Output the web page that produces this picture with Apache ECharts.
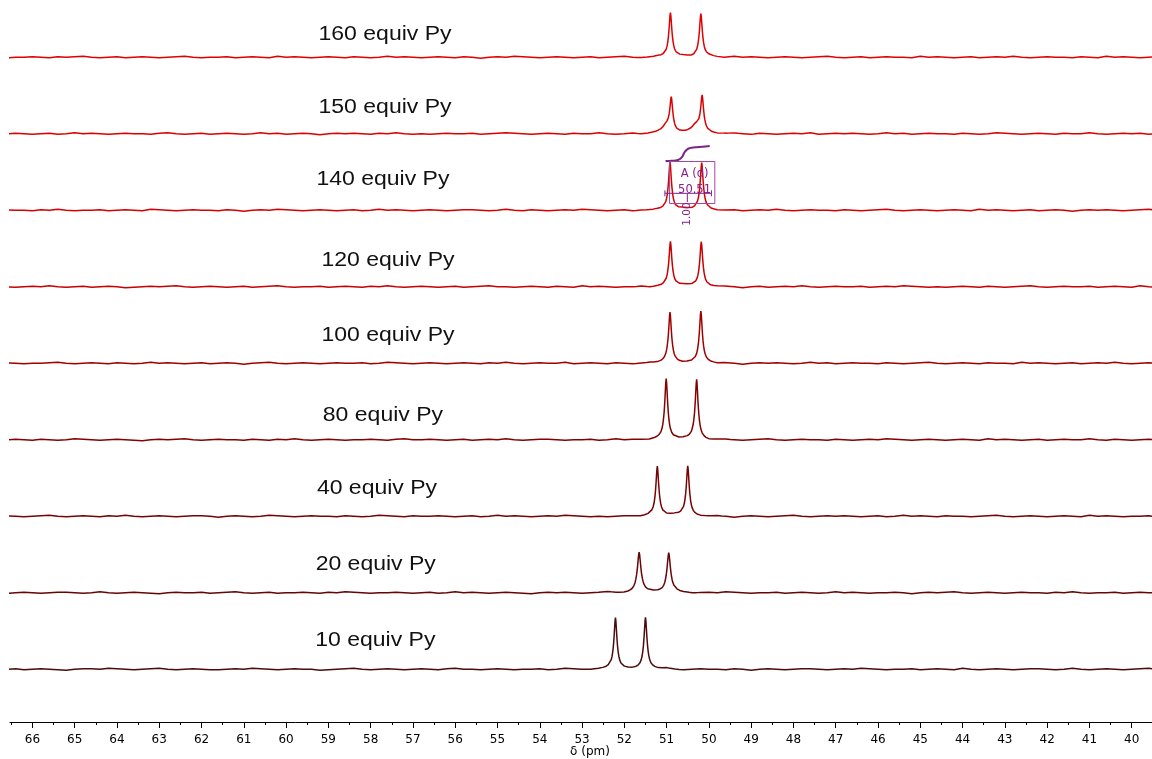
<!DOCTYPE html>
<html>
<head>
<meta charset="utf-8">
<title>Stacked spectra, equiv Py</title>
<script src="https://cdn.jsdelivr.net/npm/echarts@6/dist/echarts.min.js"></script>
<style>
  html, body { margin: 0; padding: 0; background: #fff; }
  #chart { width: 1152px; height: 759px; }
</style>
</head>
<body>
<div id="chart"></div>
<script>
// Spectrum names, bottom trace first
const SPECTRUM_NAMES = ['10 equiv Py', '20 equiv Py', '40 equiv Py', '80 equiv Py', '100 equiv Py',
                        '120 equiv Py', '140 equiv Py', '150 equiv Py', '160 equiv Py'];

// Peaks of every trace: [shift (ppm), height, width factor]
const PEAKS_10  = [[52.21, 51.6, 1], [51.50, 51.6, 1]];
const PEAKS_20  = [[51.65, 40.0, 1.2], [50.95, 40.0, 1.2]];
const PEAKS_40  = [[51.22, 50.0, 1], [50.50, 50.0, 1]];
const PEAKS_80  = [[51.01, 61.0, 1], [50.29, 60.0, 1]];
const PEAKS_100 = [[50.92, 50.4, 1], [50.19, 51.7, 1]];
const PEAKS_120 = [[50.91, 45.0, 1], [50.18, 45.0, 1]];
const PEAKS_140 = [[50.92, 48.3, 1], [50.17, 47.3, 1]];
const PEAKS_150 = [[50.89, 33.8, 1], [51.01, 7.0, 2.5], [50.16, 35.3, 1], [50.31, 7.0, 2.5]];
const PEAKS_160 = [[50.91, 44.6, 1], [50.19, 43.6, 1]];

// Line shape of one peak: distance from the centre (ppm) and relative height
const SHAPE_OFFSET = [0, 0.01, 0.02, 0.03, 0.04, 0.05, 0.065, 0.08, 0.1, 0.13, 0.17, 0.22, 0.3, 0.4, 0.55, 0.8];
const SHAPE_LEVEL  = [1, 0.93, 0.8, 0.66, 0.54, 0.44, 0.33, 0.25, 0.18, 0.12, 0.08, 0.052, 0.033, 0.02, 0.01, 0];

// Baseline noise, one value every 0.2 ppm from 66.6 ppm downwards (units of 0.5)
const NOISE_10 = [0,1,-1,0,1,0,-1,-2,0,1, 1,0,2,1,0,-1,0,1,2,0, -1,0,1,0,-1,-1,0,1,0,2, 1,0,-1,0,1,0,0,-2,-1,0,
  1,2,0,-1,0,1,0,-1,0,1, 0,-1,1,2,0,0,-1,0,1,0, -1,0,0,1,-1,0,2,1,0,-1, 0,1,0,-1,-1,0,1,0,2,0,
  -1,0,1,0,0,-1,1,0,-2,0, 1,0,-1,0,1,1,0,-1,0,1, 0,2,1,0,-1,0,0,1,-1,0, 1,0,-1,2,0,-1,0,1,0,-1,
  0,1,1,0,-1,0,2,0,-1,0, 1,0,-1,0,1,2,0,-1,0,0];
const NOISE_20 = [-1,0,1,0,-1,0,1,1,0,-1, 0,2,0,-1,0,1,0,-1,-2,0, 1,0,0,1,-1,0,1,2,0,-1, 0,1,-1,0,0,1,0,-1,1,0,
  2,1,0,-1,0,0,1,0,-1,0, 1,-1,0,2,0,1,0,-1,0,1, 0,-1,-2,0,1,0,1,0,-1,0, 1,2,0,-1,0,1,0,0,-1,1,
  0,-1,0,1,0,2,1,0,-1,0, 0,1,-1,0,1,0,-1,0,2,0, 1,0,-1,0,0,1,0,-2,0,1, 0,1,2,0,-1,0,1,0,-1,0,
  1,0,0,-1,1,0,2,0,-1,0, 0,1,-1,0,1,0,0,1,-1,0];
const NOISE_40 = [1,0,-1,0,1,2,0,-1,0,1, 0,-1,1,0,2,0,-1,0,1,0, -1,0,1,1,0,-2,0,1,0,-1, 0,2,1,0,-1,0,1,0,0,-1,
  1,0,-1,0,2,1,0,-1,1,0, 0,1,0,-1,0,1,-1,0,2,0, 1,0,-1,0,1,0,2,1,0,-1, 0,-1,0,1,0,-1,1,0,0,2,
  1,0,-1,0,1,0,-2,0,1,0, -1,0,1,2,0,-1,0,1,0,1, 0,-1,0,1,-1,0,2,0,1,0, -1,1,0,0,-1,0,1,2,0,-1,
  0,1,0,-1,0,1,0,-1,2,0, 1,0,-1,0,0,1,-1,0,1,0];
const NOISE_80 = [0,1,0,-1,1,0,-1,0,2,1, 0,-1,0,1,0,-1,-2,0,1,0, 1,2,0,-1,0,1,0,0,-1,1, 0,-1,1,0,2,0,-1,0,1,0,
  -1,0,0,1,0,-1,1,2,0,0, 1,0,-1,0,1,-1,0,1,0,2, 0,-1,0,1,1,0,-1,0,0,1, -1,0,2,0,1,0,-1,1,0,-1,
  0,1,0,-2,0,1,0,-1,0,1, 2,0,-1,0,1,0,0,-1,1,0, -1,0,1,0,2,1,0,-1,0,1, 0,-1,0,1,0,-1,2,0,1,0,
  -1,0,1,-1,0,1,0,0,2,0, -1,1,0,-1,0,1,0,1,-1,0];
const NOISE_100 = [1,0,-1,0,0,1,2,0,-1,0, 1,0,-1,1,0,-1,0,2,0,1, 0,-1,0,1,-1,0,1,0,-2,0, 1,2,0,-1,0,1,0,-1,0,1,
  0,0,1,-1,0,2,1,0,-1,0, 1,0,-1,0,1,0,-1,1,0,2, 0,-1,0,1,0,0,2,-1,0,1, 0,-1,1,0,-1,0,1,0,2,0,
  -1,0,1,0,-1,1,0,-2,0,1, 0,1,0,-1,0,2,0,1,-1,0, 1,0,0,-1,1,0,-1,0,1,2, 0,-1,0,1,0,-1,1,0,0,-1,
  2,0,1,0,-1,0,1,-1,0,1, 0,2,0,-1,0,1,0,-1,1,0];
const NOISE_120 = [0,-1,0,1,0,2,0,-1,0,1, -1,0,1,0,-2,-1,0,1,0,1, 2,0,-1,0,1,0,-1,0,1,-1, 0,1,2,0,-1,0,0,1,-1,0,
  1,0,-1,1,0,2,0,-1,0,1, 0,-1,0,1,-1,0,1,2,0,0, -1,0,1,0,-1,1,0,-1,2,0, 1,0,-1,0,0,1,-1,0,1,0,
  2,1,0,-1,0,1,0,-2,0,1, -1,0,1,0,2,0,-1,0,1,0, 0,1,-1,0,1,0,2,1,0,-1, 0,-1,0,1,0,-1,1,0,-1,0,
  1,2,0,-1,0,1,0,0,1,-1, 0,1,0,-1,2,0,-1,0,1,0];
const NOISE_140 = [1,0,0,-1,1,0,2,0,-1,0, 0,1,-1,0,1,0,-1,2,1,0, -1,0,1,0,0,-1,1,0,-2,0, 1,0,2,1,0,-1,0,1,0,-1,
  0,1,-1,0,2,0,1,0,-1,0, 1,0,-1,0,1,1,0,-1,0,2, 0,-1,1,0,-1,0,1,0,2,1, 0,-1,0,1,-1,0,0,1,0,-1,
  2,0,1,0,-1,0,1,-1,0,1, 0,2,0,-1,0,1,0,0,-1,1, 0,-1,0,1,2,0,-1,0,1,0, -1,0,1,0,-1,2,0,1,0,-1,
  0,1,-1,0,1,0,-2,0,1,0, 1,0,-1,0,1,2,0,-1,0,1];
const NOISE_150 = [0,1,0,-1,0,1,-1,0,2,0, 1,0,-1,0,1,0,0,-1,1,2, 0,-1,0,1,-1,0,1,0,-1,0, 2,0,1,-1,0,1,0,-2,0,1,
  0,1,0,-1,1,0,2,0,-1,0, -1,0,1,0,0,1,-1,0,1,2, 1,0,-1,0,1,0,-1,1,0,0, 2,0,-1,0,1,-1,0,1,0,-1,
  0,1,2,0,-1,0,1,0,-1,1, 0,-1,0,1,0,2,-1,0,1,0, 1,0,-1,0,2,0,1,-1,0,1, 0,0,-1,1,0,-1,0,2,1,0,
  -1,0,1,0,-1,1,0,0,2,0, -1,0,1,0,1,-1,0,1,0,-1];
const NOISE_160 = [-1,0,0,1,0,-1,1,0,1,2, 0,-1,0,1,-1,0,1,0,-1,0, 1,2,0,-1,0,0,1,-1,0,1, 0,-1,2,0,1,0,-1,0,1,0,
  -1,1,0,-1,0,2,0,1,0,-1, 0,1,0,-1,1,0,-2,0,1,0, 2,1,0,-1,0,1,0,-1,0,1, -1,0,1,2,0,-1,0,1,0,0,
  1,-1,0,1,0,-1,2,0,1,0, -1,0,1,0,-1,0,1,2,0,-1, 0,1,-1,0,1,0,0,-1,2,0, 1,0,-1,0,1,-1,0,1,0,2,
  0,-1,0,1,0,0,-1,1,0,-1, 2,0,1,0,-1,0,1,0,-1,0];

// Integration of the 140 equiv trace
const INTEGRAL_TAG = 'A (d)';
const INTEGRAL_SHIFT = 50.51;
const INTEGRAL_VALUE = '1.00';
const INTEGRAL_RANGE = [51.04, 49.94];
const INTEGRAL_TRACE = [[51.025, 49.3], [50.907, 49.5], [50.79, 49.8], [50.72, 50.5], [50.67, 51.8],
  [50.62, 54.3], [50.58, 57.8], [50.53, 60.3], [50.48, 61.8], [50.41, 62.6], [50.29, 63.1],
  [50.15, 63.5], [49.98, 64.3]];

// Axis ticks
const MAJOR_TICKS = [40,41,42,43,44,45,46,47,48,49,50,51,52,53,54,55,56,57,58,59,60,61,62,63,64,65,66];
const MINOR_TICKS = [39.5,40.5,41.5,42.5,43.5,44.5,45.5,46.5,47.5,48.5,49.5,50.5,51.5,52.5,53.5,54.5,
  55.5,56.5,57.5,58.5,59.5,60.5,61.5,62.5,63.5,64.5,65.5,66.5];

// ---- layout ----
const PPM_MIN = 39.52, PPM_MAX = 66.53;
const NOISE_START = 66.6, NOISE_STEP = 0.2, NOISE_UNIT = 0.5;
const STACK_BASE = 52.7, STACK_STEP = 76.5;
const TRACE_COLORS = ['#4a0c0c', '#650606', '#760404', '#820202', '#a00000', '#c80000', '#d60000', '#dc0000', '#e00000'];
// label centre: [ppm, height above the trace's baseline]
const LABEL_ANCHOR = [[57.89, 29], [57.88, 28], [57.85, 28], [57.71, 24], [57.59, 28],
                      [57.59, 26], [57.71, 31], [57.66, 26], [57.66, 22.6]];

const PEAKS = [PEAKS_10, PEAKS_20, PEAKS_40, PEAKS_80, PEAKS_100, PEAKS_120, PEAKS_140, PEAKS_150, PEAKS_160];
const NOISE = [NOISE_10, NOISE_20, NOISE_40, NOISE_80, NOISE_100, NOISE_120, NOISE_140, NOISE_150, NOISE_160];
const baseOf = i => STACK_BASE + i * STACK_STEP;

function shapeAt(d) {
  d = Math.abs(d);
  for (let k = 1; k < SHAPE_OFFSET.length; k++) {
    if (d <= SHAPE_OFFSET[k]) {
      const t = (d - SHAPE_OFFSET[k - 1]) / (SHAPE_OFFSET[k] - SHAPE_OFFSET[k - 1]);
      return SHAPE_LEVEL[k - 1] + t * (SHAPE_LEVEL[k] - SHAPE_LEVEL[k - 1]);
    }
  }
  return 0;
}
function noiseAt(noise, x) {
  const f = (NOISE_START - x) / NOISE_STEP;
  const i = Math.max(0, Math.min(noise.length - 2, Math.floor(f)));
  const t = Math.max(0, Math.min(1, f - i));
  return (noise[i] * (1 - t) + noise[i + 1] * t) * NOISE_UNIT;
}
function buildTrace(peaks, noise, base) {
  const xs = noise.map((_, i) => NOISE_START - i * NOISE_STEP);
  peaks.forEach(([p, , w]) => SHAPE_OFFSET.forEach(o => xs.push(p + o * w, p - o * w)));
  xs.sort((a, b) => b - a);
  return xs.map(x => [x, base + noiseAt(noise, x) +
    peaks.reduce((s, [p, h, w]) => s + h * shapeAt((x - p) / w), 0)]);
}

const INTEGRAL_COLOR = '#7b2389';
const BOX_COLOR = '#a447a4';
const intBase = baseOf(6);

const traceSeries = SPECTRUM_NAMES.map((name, i) => ({
  name, type: 'line', xAxisIndex: 0, yAxisIndex: 0,
  data: buildTrace(PEAKS[i], NOISE[i], baseOf(i)),
  symbol: 'none', showSymbol: false, silent: true,
  lineStyle: { color: TRACE_COLORS[i], width: 1.5 },
  z: 2
}));

const integralSeries = {
  type: 'line', xAxisIndex: 0, yAxisIndex: 0, silent: true,
  data: INTEGRAL_TRACE.map(([x, y]) => [x, intBase + y]),
  symbol: 'none', smooth: 0.3,
  lineStyle: { color: INTEGRAL_COLOR, width: 2 },
  z: 4
};

const integralBox = {
  type: 'custom', xAxisIndex: 0, yAxisIndex: 0, silent: true, z: 5,
  data: [[INTEGRAL_SHIFT, intBase]],
  renderItem(params, api) {
    const c = (x, y) => api.coord([x, intBase + y]);
    const tl = c(50.93, 48.8), br = c(49.86, 6.8);
    const l = c(INTEGRAL_RANGE[0], 17), r = c(INTEGRAL_RANGE[1], 17);
    const m = c(INTEGRAL_SHIFT, 17), mb = c(INTEGRAL_SHIFT, 8.3);
    const t1 = c(50.34, 36), t2 = c(50.34, 20.3), v = c(INTEGRAL_SHIFT, -3.7);
    const line = (a, b, col) => ({ type: 'line', shape: { x1: a[0], y1: a[1], x2: b[0], y2: b[1] },
      style: { stroke: col, lineWidth: 1 } });
    return { type: 'group', children: [
      { type: 'rect', shape: { x: tl[0], y: tl[1], width: br[0] - tl[0], height: br[1] - tl[1] },
        style: { fill: 'none', stroke: BOX_COLOR, lineWidth: 1 } },
      line(l, r, INTEGRAL_COLOR),
      line([l[0], l[1] - 3], [l[0], l[1] + 3], INTEGRAL_COLOR),
      line([r[0], r[1] - 3], [r[0], r[1] + 3], INTEGRAL_COLOR),
      line(m, mb, INTEGRAL_COLOR),
      { type: 'text', x: t1[0], y: t1[1], style: { text: INTEGRAL_TAG, fill: '#8b1c8b',
        font: '11.5px "DejaVu Sans"', align: 'center', verticalAlign: 'middle' } },
      { type: 'text', x: t2[0], y: t2[1], style: { text: INTEGRAL_SHIFT.toFixed(2), fill: '#8b1c8b',
        font: '11.5px "DejaVu Sans"', align: 'center', verticalAlign: 'middle' } },
      { type: 'text', x: v[0], y: v[1], rotation: Math.PI / 2, style: { text: INTEGRAL_VALUE, fill: '#8b1c8b',
        font: '10.5px "DejaVu Sans"', align: 'center', verticalAlign: 'middle' } }
    ] };
  }
};

const chart = echarts.init(document.getElementById('chart'), null, { renderer: 'canvas' });
chart.setOption({
  animation: false,
  backgroundColor: '#fff',
  grid: { left: 10, right: 0, top: 0, bottom: 37, containLabel: false, outerBoundsMode: 'none' },
  xAxis: [{
    type: 'value', inverse: true, min: PPM_MIN, max: PPM_MAX, position: 'bottom',
    name: 'δ (pm)', nameLocation: 'middle', nameGap: 30, nameMoveOverlap: false,
    nameTextStyle: { color: '#000', fontFamily: 'DejaVu Sans', fontSize: 12, verticalAlign: 'middle',
      padding: [0, 0, 0, 18] },
    axisLine: { show: true, onZero: false, lineStyle: { color: '#000', width: 1 } },
    axisTick: { show: true, length: 6, customValues: MAJOR_TICKS, lineStyle: { color: '#000' } },
    axisLabel: { show: true, customValues: MAJOR_TICKS, margin: 12, color: '#000',
      fontFamily: 'DejaVu Sans', fontSize: 12 },
    splitLine: { show: false }
  }, {
    type: 'value', inverse: true, min: PPM_MIN, max: PPM_MAX, position: 'bottom', offset: 0,
    axisLine: { show: false, onZero: false },
    axisTick: { show: true, length: 3, customValues: MINOR_TICKS, lineStyle: { color: '#000' } },
    axisLabel: { show: false },
    splitLine: { show: false }
  }],
  yAxis: { type: 'value', min: 0, max: 722, show: false },
  series: [...traceSeries, integralSeries, integralBox]
});

// Trace labels, placed through the axes' scales
chart.setOption({
  graphic: SPECTRUM_NAMES.map((name, i) => {
    const [px, py] = chart.convertToPixel({ xAxisIndex: 0, yAxisIndex: 0 },
      [LABEL_ANCHOR[i][0], baseOf(i) + LABEL_ANCHOR[i][1]]);
    return { type: 'text', x: px, y: py, scaleX: 1.15, silent: true,
      style: { text: name, fill: '#111', font: '20px "Liberation Sans"', align: 'center', verticalAlign: 'middle' } };
  })
});
</script>
</body>
</html>
